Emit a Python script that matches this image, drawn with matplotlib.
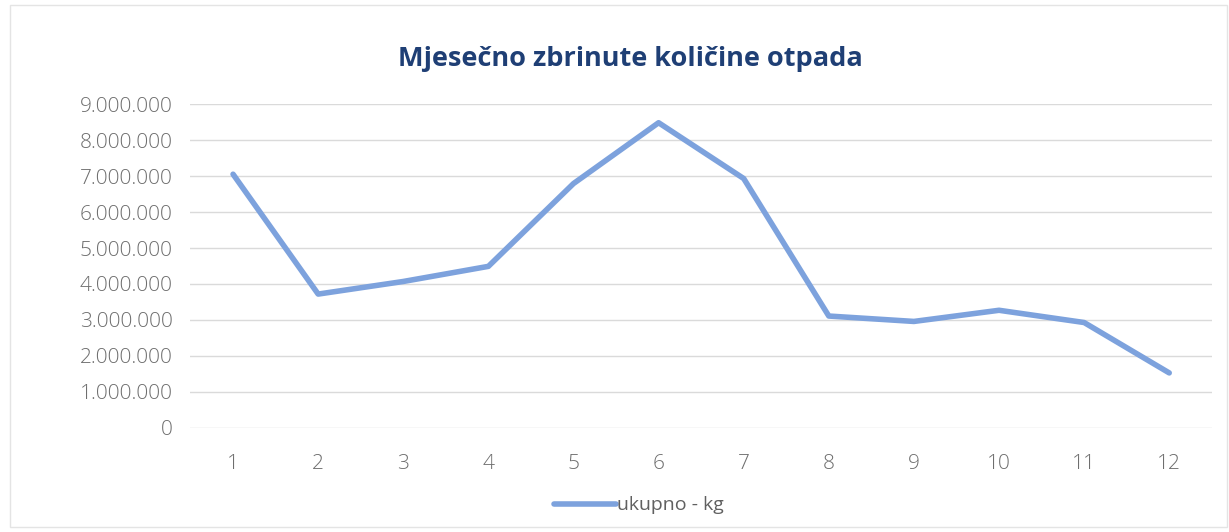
import numpy as np
import matplotlib.pyplot as plt
from matplotlib.ticker import FuncFormatter

# monthly values (kg)
months = [1, 2, 3, 4, 5, 6, 7, 8, 9, 10, 11, 12]
total_kg = [7050000, 3720000, 4070000, 4490000, 6790000, 8480000,
            6930000, 3110000, 2960000, 3270000, 2930000, 1530000]
y_ticks = [0, 1000000, 2000000, 3000000, 4000000, 5000000,
           6000000, 7000000, 8000000, 9000000]

plt.rcParams['font.family'] = ['Open Sans', 'DejaVu Sans']

fig = plt.figure(figsize=(12.29, 5.32), dpi=100)
ax = fig.add_axes([0.155, 0.1955, 0.831, 0.609])

ax.plot(months, total_kg, color='#7DA2DD', lw=4, solid_capstyle='round',
        solid_joinstyle='round', label='ukupno - kg')

ax.set_xlim(0.5, 12.5)
ax.set_ylim(0, 9000000)
ax.set_xticks(months)
ax.set_yticks(y_ticks)
ax.yaxis.set_major_formatter(FuncFormatter(lambda v, p: f'{int(v):,}'.replace(',', '.')))
ax.grid(axis='y', color='#DADADA', lw=1)
ax.set_axisbelow(True)
for s in ax.spines.values():
    s.set_visible(False)
ax.tick_params(axis='y', length=0, pad=13)
ax.tick_params(axis='x', length=0, pad=19)
for lbl in ax.get_yticklabels() + ax.get_xticklabels():
    lbl.set_fontweight('light')
    lbl.set_fontsize(15)
    lbl.set_color('#6E6E6E')

fig.text(0.513, 0.89, 'Mjesečno zbrinute količine otpada', ha='center', va='center',
         fontsize=19.5, fontweight='bold', color='#1F3F75')

leg = fig.legend(loc='center', bbox_to_anchor=(0.52, 0.05), frameon=False,
                 fontsize=14, handlelength=3.2, handletextpad=0.05)
for t in leg.get_texts():
    t.set_color('#606060')

# faint chart border
fig.add_artist(plt.Rectangle((0.008, 0.01), 0.99, 0.98, transform=fig.transFigure,
                             fill=False, edgecolor='#E4E4E4', lw=1))

fig.savefig('out.png', dpi=100, facecolor='white')
